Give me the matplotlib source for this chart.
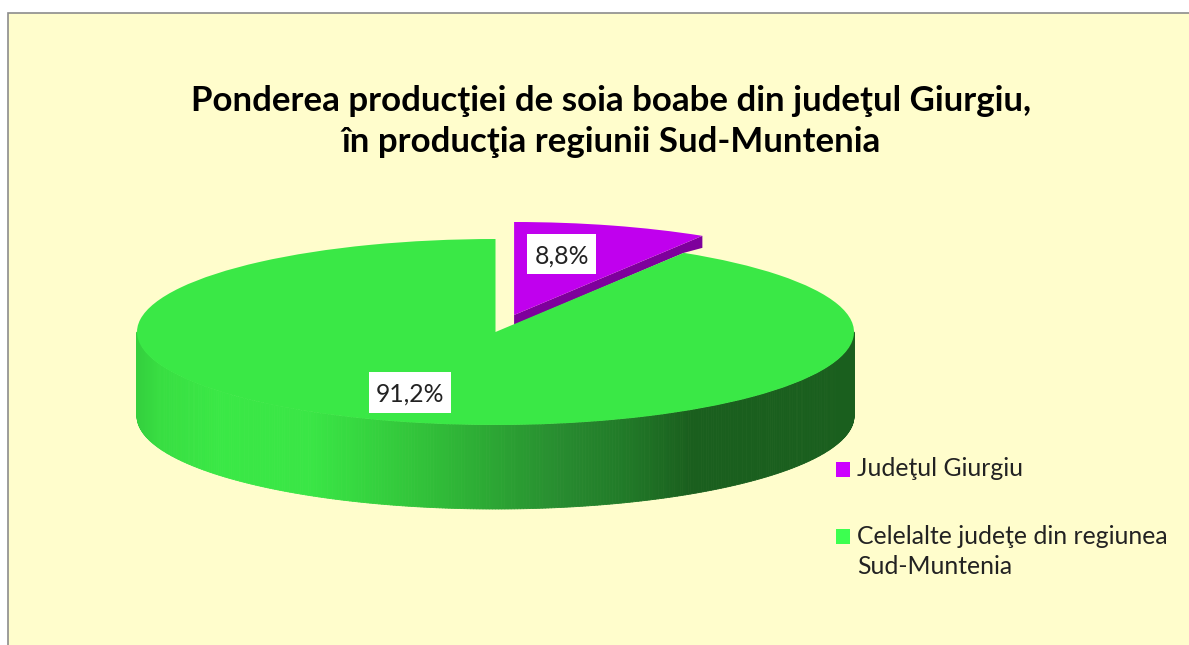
"""
Grafic: Ponderea producției de soia boabe din județul Giurgiu
Salvează: out.png
"""

import numpy as np
import matplotlib
matplotlib.use('Agg')
import matplotlib.pyplot as plt
from matplotlib.collections import PolyCollection
from matplotlib.patches import Polygon, Rectangle

plt.rcParams['font.family'] = ['Lato', 'DejaVu Sans']

# ── Date ──
titlu = 'Ponderea producţiei de soia boabe din judeţul Giurgiu,\nîn producţia regiunii Sud-Muntenia'
categorii = ['Judeţul Giurgiu', 'Celelalte judeţe din regiunea\nSud-Muntenia']
ponderi = [8.8, 91.2]

# ── Stil ──
W, H = 1189, 645
FOND = '#FFFDCC'
MOV, MOV_INCHIS = '#C000EE', '#7E009C'
VERDE = '#3AE846'
LEGENDA_CULORI = ['#CC00FF', '#3CFF50']
CX, CY, RX, RY = 495.5, 332, 358.5, 93   # elipsa feței de sus, în pixeli
ADANCIME = 84 / RY
EXPLODE = 0.19

# gradient perete lateral (x în pixeli -> culoare)
grad_x = [137, 160, 220, 310, 360, 420, 490, 560, 627, 690, 854]
grad_rgb = np.array([
    (52, 207, 62), (56, 222, 66), (58, 232, 70), (58, 230, 70), (54, 215, 64), (50, 195, 58),
    (44, 168, 52), (40, 140, 48), (33, 122, 40), (26, 95, 30), (26, 95, 30)]) / 255

fig = plt.figure(figsize=(W / 100, H / 100), dpi=100, facecolor='white')

# ── Plăcinta, în unități de rază ──
ax = fig.add_axes([0, 0, 1, 1])
wedges, _ = ax.pie(ponderi, explode=[EXPLODE, 0], startangle=90, counterclock=False,
                   colors=[MOV, VERDE], radius=1)
ax.set_aspect('auto')
ax.set_xlim((0 - CX) / RX, (W - CX) / RX)
ax.set_ylim((CY - H) / RY, CY / RY)
ax.patch.set_visible(False)
ax.set_axis_off()
wedges[0].set_zorder(2)
wedges[1].set_zorder(3)

# Perete lateral verde, fâșii verticale
t = np.radians(np.arange(180, 360.01, 0.5))
strips = []
culori = []
for a, b in zip(t[:-1], t[1:]):
    strips.append([(np.cos(a), np.sin(a)), (np.cos(b), np.sin(b)),
                   (np.cos(b), np.sin(b) - ADANCIME), (np.cos(a), np.sin(a) - ADANCIME)])
    px = CX + RX * np.cos((a + b) / 2)
    culori.append([np.interp(px, grad_x, grad_rgb[:, i]) for i in range(3)])
ax.add_collection(PolyCollection(strips, facecolors=culori, edgecolors=culori,
                                 linewidths=0.6, zorder=1))

# Perete interior al feliei mov (partea vizibilă)
unghi = np.radians(90 - ponderi[0] / sum(ponderi) * 360)
mid = np.radians(90 - ponderi[0] / sum(ponderi) * 180)
ox, oy = EXPLODE * np.cos(mid), EXPLODE * np.sin(mid)
rim_x, rim_y = ox + np.cos(unghi), oy + np.sin(unghi)
ax.add_patch(Polygon([(ox, oy), (rim_x, rim_y), (rim_x, rim_y - 12 / RY),
                      (np.cos(unghi), np.sin(unghi)), (ox, oy - 10 / RY)],
                     closed=True, facecolor=MOV_INCHIS, edgecolor='none', zorder=1.5))

# ── Strat în pixeli: fundal, titlu, etichete, legendă ──
bg = fig.add_axes([0, 0, 1, 1], zorder=-1)
bg.set_xlim(0, W)
bg.set_ylim(H, 0)
bg.set_axis_off()
bg.add_patch(Rectangle((7.5, 12.5), W + 10, H + 10, facecolor=FOND, edgecolor='#8C8C8C', linewidth=1.2))

top = fig.add_axes([0, 0, 1, 1], zorder=5)
top.set_xlim(0, W)
top.set_ylim(H, 0)
top.set_axis_off()
top.patch.set_visible(False)

top.text(611, 121.5, titlu, ha='center', va='center', fontsize=25.1, fontweight='bold',
         color='black', linespacing=1.38)

# Etichete pe fond alb
etichete = [f'{v:.1f}%'.replace('.', ',') for v in ponderi]
cutii = [(527, 234, 69, 40), (369, 372, 82, 41)]
for e, (x, y, w, h) in zip(etichete, cutii):
    top.add_patch(Rectangle((x, y), w, h, facecolor='white', edgecolor='none'))
    top.text(x + w / 2, y + h / 2, e, ha='center', va='center_baseline', fontsize=17.8, color='#222222')

# Legendă
legenda_y = [(462, 470), (529, 538)]
for (py, ty), c, lab in zip(legenda_y, LEGENDA_CULORI, categorii):
    top.add_patch(Rectangle((836, py), 14, 14.5, facecolor=c, edgecolor='none'))
    top.text(857, ty - 13, lab, ha='left', va='top', fontsize=17.8, color='#222222', linespacing=1.35)

fig.savefig('out.png', dpi=100, facecolor='white')
